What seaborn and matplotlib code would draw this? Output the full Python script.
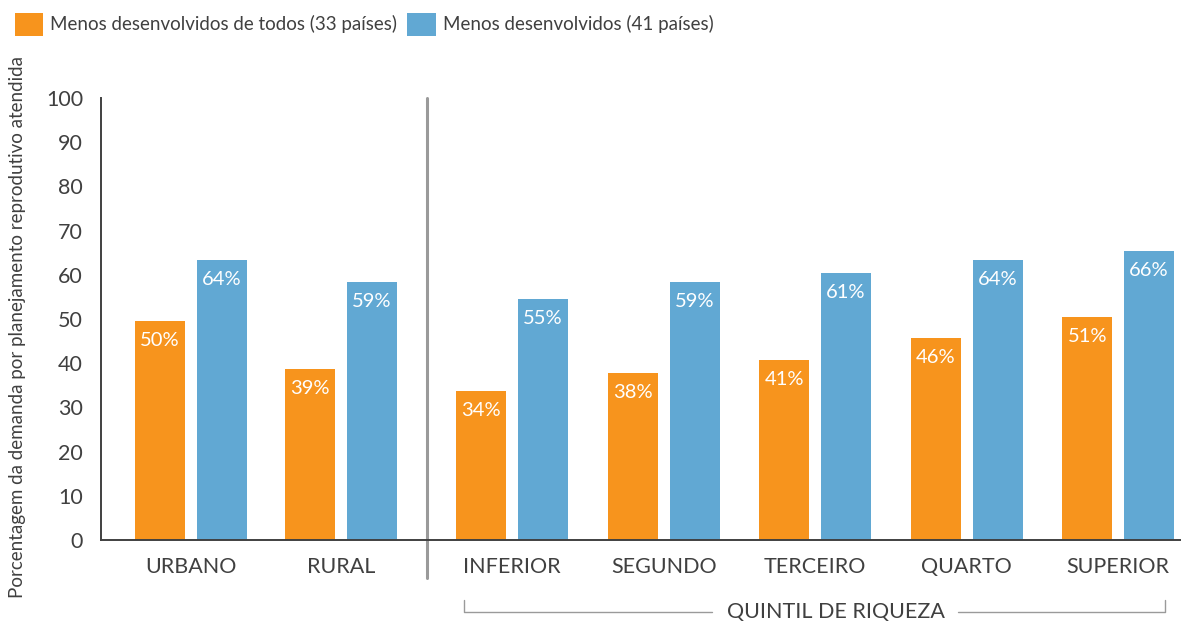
import pandas as pd
import seaborn as sns
import matplotlib.pyplot as plt

# Dados
categorias = ['URBANO', 'RURAL', 'INFERIOR', 'SEGUNDO', 'TERCEIRO', 'QUARTO', 'SUPERIOR']
posicoes = [0, 0.99, 2.12, 3.12, 4.12, 5.12, 6.12]
menos_todos = [49.5, 38.7, 33.7, 37.8, 40.7, 45.7, 50.4]
menos_desenv = [63.3, 58.4, 54.5, 58.4, 60.4, 63.3, 65.4]
rotulos_todos = ['50%', '39%', '34%', '38%', '41%', '46%', '51%']
rotulos_desenv = ['64%', '59%', '55%', '59%', '61%', '64%', '66%']
serie_todos = 'Menos desenvolvidos de todos (33 países)'
serie_desenv = 'Menos desenvolvidos (41 países)'

df = pd.DataFrame({
    'pos': posicoes * 2,
    'valor': menos_todos + menos_desenv,
    'serie': [serie_todos] * len(posicoes) + [serie_desenv] * len(posicoes),
})

cinza = '#404040'
sns.set_style('white')
plt.rcParams['font.family'] = ['Lato', 'DejaVu Sans']

fig = plt.figure(figsize=(11.81, 6.23), dpi=100)
ax = fig.add_axes([101 / 1181, 83 / 623, 1080 / 1181, 442 / 623])

sns.barplot(data=df, x='pos', y='valor', hue='serie', native_scale=True,
            palette={serie_todos: '#F7941D', serie_desenv: '#61A8D3'},
            width=0.826, gap=0.19, saturation=1, linewidth=0,
            errorbar=None, ax=ax)

# Rótulos dentro das barras
for cont, rot in zip(ax.containers, [rotulos_todos, rotulos_desenv]):
    ax.bar_label(cont, labels=rot, padding=-20, color='white', fontsize=14.5)

ax.set_xlim(-0.594, 6.535)
ax.set_ylim(0, 100)
ax.set_yticks(range(0, 101, 10))
ax.set_xticks(posicoes, categorias)
ax.tick_params(axis='y', direction='in', length=10, width=1.4, color=cinza,
               labelsize=15.5, labelcolor=cinza, pad=13)
ax.tick_params(axis='x', length=0, labelsize=15.5, labelcolor=cinza, pad=12)
ax.set_xlabel('')
ax.set_ylabel('')
sns.despine(ax=ax)
for s in ['left', 'bottom']:
    ax.spines[s].set_linewidth(1.4)
    ax.spines[s].set_color(cinza)

# Separador entre área e quintis
trans = ax.get_xaxis_transform()
sep = (posicoes[1] + posicoes[2]) / 2
ax.plot([sep, sep], [1.0, -0.086], transform=trans, color='#9a9a9a', lw=2.2, clip_on=False)

# Chave do quintil de riqueza
x0, x1 = posicoes[2] - 0.32, posicoes[6] + 0.31
xt = 4.26
ax.plot([x0, x0, 3.44], [-0.136, -0.163, -0.163], transform=trans, color='#9a9a9a', lw=1, clip_on=False)
ax.plot([5.06, x1, x1], [-0.163, -0.163, -0.136], transform=trans, color='#9a9a9a', lw=1, clip_on=False)
ax.text(xt, -0.163, 'QUINTIL DE RIQUEZA', transform=trans, ha='center', va='center',
        fontsize=15.5, color=cinza)

fig.text(18 / 1181, 1 - 327 / 623, 'Porcentagem da demanda por planejamento reprodutivo atendida',
         rotation=90, ha='center', va='center', fontsize=13.5, color=cinza)

sns.move_legend(ax, 'upper left', bbox_to_anchor=(-0.087, 1.21), ncol=2, frameon=False,
                title=None, fontsize=13.5, handlelength=1.5, handleheight=1.5,
                handletextpad=0.4, columnspacing=0.55, borderaxespad=0)
for t in ax.get_legend().get_texts():
    t.set_color(cinza)

fig.savefig('out.png', dpi=100)
